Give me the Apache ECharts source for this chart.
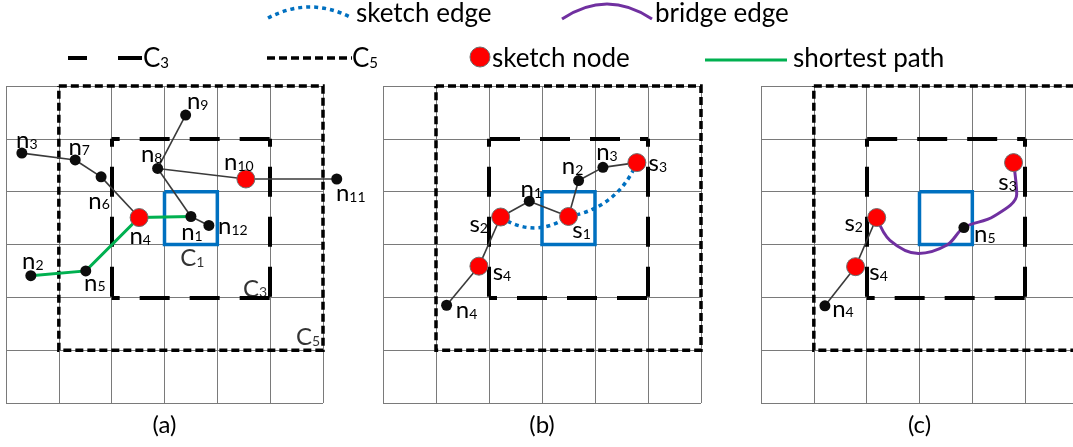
<!DOCTYPE html>
<html>
<head>
<meta charset="utf-8">
<script src="https://cdn.jsdelivr.net/npm/echarts@6/dist/echarts.min.js"></script>
<style>
  html, body { margin: 0; padding: 0; background: #fff; }
  #main { width: 1073px; height: 447px; }
</style>
</head>
<body>
<div id="main"></div>
<script>
// every panel is a 6 x 6 cell grid; x runs right, y runs down (cell units)
const panelNames = ['(a)', '(b)', '(c)'];

// cells shared by all panels
const c1Cell = [3, 2];          // query cell C1 (col, row)
const c3Range = [2, 1, 5, 4];   // x0, y0, x1, y1
const c5Range = [1, 0, 6, 5];

// panel (a)
const nodesA = [
  ['n1', 3.50, 2.47], ['n2', 0.47, 3.59], ['n3', 0.30, 1.27], ['n4', 2.52, 2.49],
  ['n5', 1.51, 3.50], ['n6', 1.80, 1.72], ['n7', 1.31, 1.40], ['n8', 2.87, 1.56],
  ['n9', 3.40, 0.55], ['n10', 4.54, 1.76], ['n11', 6.26, 1.76], ['n12', 3.84, 2.64]
];
const sketchNodesA = ['n4', 'n10'];
const edgesA = [['n3', 'n7'], ['n7', 'n6'], ['n6', 'n4'], ['n8', 'n9'], ['n8', 'n10'],
                ['n10', 'n11'], ['n8', 'n1'], ['n1', 'n12']];
const shortestPathA = ['n2', 'n5', 'n4', 'n1'];

// panel (b)
const nodesB = [
  ['s1', 3.50, 2.47], ['s2', 2.22, 2.48], ['s3', 4.79, 1.45], ['s4', 1.81, 3.41],
  ['n1', 2.76, 2.18], ['n2', 3.69, 1.79], ['n3', 4.15, 1.54], ['n4', 1.20, 4.15]
];
const sketchNodesB = ['s1', 's2', 's3', 's4'];
const edgesB = [['n4', 's4'], ['s4', 's2'], ['s2', 'n1'], ['n1', 's1'], ['s1', 'n2'],
                ['n2', 'n3'], ['n3', 's3']];
const sketchEdgesB = [['s2', 's1'], ['s1', 's3']];

// panel (c)
const nodesC = [
  ['s2', 2.19, 2.49], ['s3', 4.78, 1.45], ['s4', 1.79, 3.42], ['n4', 1.21, 4.16], ['n5', 3.84, 2.68]
];
const sketchNodesC = ['s2', 's3', 's4'];
const edgesC = [['n4', 's4'], ['s4', 's2']];
// bridge edge s2 -> n5 -> s3
const bridgeEdgeC = [[2.19, 2.49], [2.44, 2.92], [2.98, 3.17], [3.52, 3.01], [3.84, 2.68],
                     [4.40, 2.47], [4.84, 2.05], [4.78, 1.45]];

// ---- styles ----
const FONT = 'Lato, "Open Sans", sans-serif';
const sketchEdgeBend = [-0.33, -0.27];
const labelOffset = [
  { n1: [1, 16], n2: [2, -14], n3: [5, -13], n4: [1, 19], n5: [9, 12], n6: [-2, 24], n7: [4, -13],
    n8: [-6, -14], n9: [12, -14], n10: [-7, -17], n11: [14, 14], n12: [24, 1],
    C1: [1.5, 13.5], C3: [-15, -8.5], C5: [-15, -12.5] },
  { s1: [13, 14], s2: [-22, 7], s3: [21, 1], s4: [23, 6], n1: [2, -12], n2: [-6, -14], n3: [4, -15], n4: [20, 5] },
  { s2: [-23, 6], s3: [-6, 20], s4: [23, 6], n4: [18, 3], n5: [21, 7] }
];
const subRich = {
  m: { fontFamily: FONT, fontSize: 24, color: '#000', verticalAlign: 'bottom' },
  s: { fontFamily: FONT, fontSize: 14, color: '#000', verticalAlign: 'bottom', padding: [0, 0, 1, 0] }
};
const subFormatter = p => '{m|' + p.name[0] + '}{s|' + p.name.slice(1) + '}';

function lookup(nodes) {
  const m = {};
  nodes.forEach(n => { m[n[0]] = [n[1], n[2]]; });
  return m;
}

function axisIdx(i) { return { xAxisIndex: i, yAxisIndex: i }; }

function regionSeries(i, topFromRight) {
  const [x0, y0, x1, y1] = c3Range;
  const [a0, b0, a1, b1] = c5Range;
  const cx = c1Cell[0], cy = c1Cell[1];
  const top = topFromRight ? [[x1, y0], [x0, y0]] : [[x0, y0], [x1, y0]];
  return [
    Object.assign({
      type: 'lines', coordinateSystem: 'cartesian2d', polyline: true, silent: true, clip: false, z: 3,
      lineStyle: { color: '#000', width: 3.5, type: [8, 4], opacity: 1 },
      data: [{ coords: [[a0, b0], [a1, b0], [a1, b1], [a0, b1], [a0, b0]] }]
    }, axisIdx(i)),
    Object.assign({
      type: 'lines', coordinateSystem: 'cartesian2d', silent: true, clip: false, z: 3,
      lineStyle: { color: '#000', width: 4, type: [30, 20], dashOffset: 22, opacity: 1 },
      data: [{ coords: top }, { coords: [[x0, y0], [x0, y1]] },
             { coords: [[x1, y0], [x1, y1]] }, { coords: [[x0, y1], [x1, y1]] }]
    }, axisIdx(i)),
    Object.assign({
      type: 'lines', coordinateSystem: 'cartesian2d', polyline: true, silent: true, clip: false, z: 4,
      lineStyle: { color: '#0070C0', width: 3.5, opacity: 1 },
      data: [{ coords: [[cx, cy], [cx + 1, cy], [cx + 1, cy + 1], [cx, cy + 1], [cx, cy]] }]
    }, axisIdx(i))
  ];
}

function edgeSeries(i, nodes, edges) {
  const p = lookup(nodes);
  return Object.assign({
    type: 'lines', coordinateSystem: 'cartesian2d', silent: true, clip: false, z: 5,
    lineStyle: { color: '#3a3a3a', width: 1.6, opacity: 1 },
    data: edges.map(e => ({ coords: [p[e[0]], p[e[1]]] }))
  }, axisIdx(i));
}

function nodeSeries(i, nodes, sketch) {
  return Object.assign({
    type: 'scatter', silent: true, clip: false, z: 10,
    data: nodes.map(n => {
      const red = sketch.indexOf(n[0]) >= 0;
      return {
        name: n[0], value: [n[1], n[2]],
        symbolSize: red ? 18 : 11,
        itemStyle: red ? { color: '#ff0000', borderColor: '#6e6e6e', borderWidth: 1, opacity: 1 }
                       : { color: '#0d0d0d', opacity: 1 },
        label: { offset: labelOffset[i][n[0]] }
      };
    }),
    label: { show: true, position: 'inside', color: '#000', formatter: subFormatter, rich: subRich }
  }, axisIdx(i));
}

const pa = lookup(nodesA), pb = lookup(nodesB);
const series = [].concat(
  regionSeries(0, false), regionSeries(1, true), regionSeries(2, true),
  [
    edgeSeries(0, nodesA, edgesA),
    edgeSeries(1, nodesB, edgesB),
    edgeSeries(2, nodesC, edgesC),
    Object.assign({
      type: 'lines', coordinateSystem: 'cartesian2d', polyline: true, silent: true, clip: false, z: 6,
      lineStyle: { color: '#00B050', width: 3, opacity: 1 },
      data: [{ coords: shortestPathA.map(n => pa[n]) }]
    }, axisIdx(0)),
    Object.assign({
      type: 'lines', coordinateSystem: 'cartesian2d', silent: true, clip: false, z: 6,
      lineStyle: { color: '#0070C0', width: 3.5, type: [4, 4], opacity: 1 },
      data: sketchEdgesB.map((e, k) => ({ coords: [pb[e[0]], pb[e[1]]], lineStyle: { curveness: sketchEdgeBend[k] } }))
    }, axisIdx(1)),
    Object.assign({
      type: 'line', smooth: 0.35, symbol: 'none', silent: true, clip: false, z: 6,
      lineStyle: { color: '#7030A0', width: 3 },
      data: bridgeEdgeC
    }, axisIdx(2)),
    nodeSeries(0, nodesA, sketchNodesA),
    nodeSeries(1, nodesB, sketchNodesB),
    nodeSeries(2, nodesC, sketchNodesC),
    Object.assign({
      type: 'scatter', silent: true, clip: false, z: 10, symbolSize: 1,
      itemStyle: { color: 'rgba(0,0,0,0)' },
      data: [
        { name: 'C1', value: [c1Cell[0] + 0.5, c1Cell[1] + 1] },
        { name: 'C3', value: [c3Range[2], c3Range[3]] },
        { name: 'C5', value: [c5Range[2], c5Range[3]] }
      ].map(d => Object.assign(d, { label: { offset: labelOffset[0][d.name] } })),
      label: { show: true, position: 'inside', color: '#000', formatter: subFormatter, rich: subRich }
    }, axisIdx(0))
  ]
);

const panelBox = [[6, 317], [383, 318], [761, 317]];

function legendText(x, y, text) {
  return {
    type: 'text', x: x, y: y, silent: true,
    style: { text: text, font: '26px ' + FONT, fill: '#000', verticalAlign: 'middle', textVerticalAlign: 'middle',
             rich: { m: { fontFamily: FONT, fontSize: 26, verticalAlign: 'bottom' },
                     s: { fontFamily: FONT, fontSize: 15, verticalAlign: 'bottom', padding: [0, 0, 1, 0] } } }
  };
}

const chart = echarts.init(document.getElementById('main'), null, { renderer: 'canvas' });
chart.setOption({
  animation: false,
  backgroundColor: '#fff',
  grid: panelBox.map(b => ({ left: b[0], top: 86, width: b[1], height: 317, outerBoundsMode: 'none', containLabel: false })),
  xAxis: panelNames.map((name, i) => ({
    gridIndex: i, type: 'value', min: 0, max: 6, interval: 1,
    name: name, nameLocation: 'middle', nameGap: 10,
    nameTextStyle: { fontFamily: FONT, fontSize: 24, color: '#000' },
    axisLine: { show: false }, axisTick: { show: false }, axisLabel: { show: false },
    splitLine: { show: true, lineStyle: { color: '#7a7a7a', width: 1 } }
  })),
  yAxis: panelNames.map((name, i) => ({
    gridIndex: i, type: 'value', min: 0, max: 6, interval: 1, inverse: true,
    axisLine: { show: false }, axisTick: { show: false }, axisLabel: { show: false },
    splitLine: { show: true, lineStyle: { color: '#7a7a7a', width: 1 } }
  })),
  graphic: [
    // legend, row 1
    { type: 'bezierCurve', silent: true, shape: { x1: 268, y1: 18, x2: 352, y2: 18, cpx1: 310, cpy1: -4 },
      style: { stroke: '#0070C0', lineWidth: 3.5, lineDash: [4, 4], fill: null } },
    legendText(356, 14, 'sketch edge'),
    { type: 'bezierCurve', silent: true, shape: { x1: 562, y1: 19, x2: 652, y2: 19, cpx1: 607, cpy1: -11 },
      style: { stroke: '#7030A0', lineWidth: 3, fill: null } },
    legendText(655, 14, 'bridge edge'),
    // legend, row 2
    { type: 'line', silent: true, shape: { x1: 68, y1: 58, x2: 87, y2: 58 }, style: { stroke: '#000', lineWidth: 4 } },
    { type: 'line', silent: true, shape: { x1: 118, y1: 58, x2: 142, y2: 58 }, style: { stroke: '#000', lineWidth: 4 } },
    legendText(143, 59, '{m|C}{s|3}'),
    { type: 'line', silent: true, shape: { x1: 267, y1: 58, x2: 352, y2: 58 },
      style: { stroke: '#000', lineWidth: 3.5, lineDash: [8, 4] } },
    legendText(352, 59, '{m|C}{s|5}'),
    { type: 'circle', silent: true, shape: { cx: 480, cy: 57, r: 10 },
      style: { fill: '#ff0000', stroke: '#6e6e6e', lineWidth: 1 } },
    legendText(492, 59, 'sketch node'),
    { type: 'line', silent: true, shape: { x1: 705, y1: 60, x2: 787, y2: 60 }, style: { stroke: '#00B050', lineWidth: 3 } },
    legendText(793, 59, 'shortest path')
  ],
  series: series
});
</script>
</body>
</html>
